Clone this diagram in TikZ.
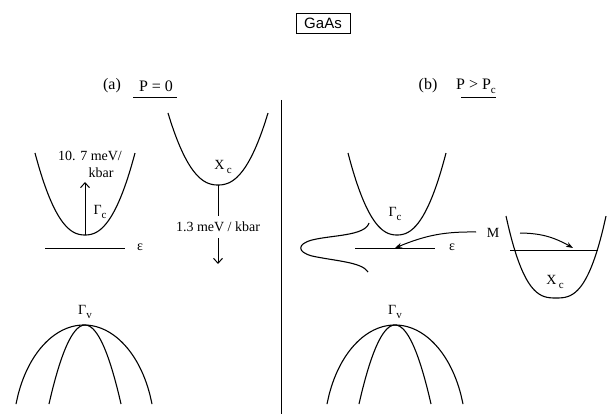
\documentclass[tikz,border=0pt]{standalone}
\usepackage{fontspec}
\setmainfont{Liberation Serif}
\newfontfamily\hsans{Liberation Sans}
\usetikzlibrary{arrows.meta,bending}
\newcommand\lowc[1]{\raisebox{-0.55ex}{\fontsize{11}{11}\selectfont #1}}
\begin{document}
\begin{tikzpicture}[x=1pt,y=-1pt,
  band/.style={line width=1.1pt},
  thinl/.style={line width=1pt},
  lbl/.style={font=\fontsize{14}{14}\selectfont, inner sep=0pt},
  head/.style={font=\fontsize{16}{16}\selectfont, inner sep=0pt},
  barb/.style={-{Straight Barb[length=5pt,width=9pt,line width=1pt]}},
  stl/.style={-{Stealth[length=7pt,width=5pt]}}]
\useasboundingbox (0,0) rectangle (607,414);
% title
\node[draw, line width=0.7pt, minimum width=54pt, minimum height=20pt, inner sep=2pt,
      font=\hsans\fontsize{15}{15}\selectfont] (title) at (323,23) {GaAs};
% headers
\node[head] (ha) at (112,86) {(a)};
\node[head] (hp0) at (156,86) {P = 0};
\coordinate (ula) at (133,98);
\coordinate (ulb) at (177,98);
\draw[thinl] (ula) -- (ulb);
\node[head] (hb) at (428,86) {(b)};
\node[head] (hpc) at (476,86) {P > P\lowc{c}};
\coordinate (ulc) at (461,98);
\coordinate (uld) at (496,98);
\draw[thinl] (ulc) -- (uld);
% divider
\coordinate (divt) at (281,100);
\coordinate (divb) at (281,414);
\draw[thinl] (divt) -- (divb);
% ---------- panel (a) ----------
% Gamma_c band
\draw[band] plot[domain=-1:1, samples=40, smooth] ({85+50*\x},{235-82*abs(\x)^2.3});
\coordinate (gcv) at (85,235);
\coordinate (gctip) at (85,182);
\draw[thinl, barb] (gcv) -- (gctip);
\node[lbl] (r1a) at (90,156) {10. 7 meV/};
\node[lbl] (r1b) at (101,173) {kbar};
\node[lbl] (gcl) at (100,212) {Γ\lowc{c}};
\coordinate (epsa1) at (45,248);
\coordinate (epsa2) at (125,248);
\draw[thinl] (epsa1) -- (epsa2);
\node[lbl] (epsa) at (140,247) {ε};
% X_c band
\draw[band] plot[domain=-1:1, samples=40, smooth] ({218+50*\x},{185-72*abs(\x)^2.3});
\node[lbl] (xcl) at (223,167) {X\,\lowc{c}};
\coordinate (xcv) at (218,185);
\node[lbl, inner ysep=6pt] (rate) at (218,227) {1.3 meV / kbar};
\coordinate (xctip) at (218,264);
\draw[thinl] (xcv) -- (rate.north);
\draw[thinl, barb] (rate.south) -- (xctip);
% Gamma_v bands
\draw[band] plot[domain=-68:68, samples=60, smooth] ({84+\x},{325+111*(1-sqrt(1-(\x/71)^2))});
\draw[band] plot[domain=-36:36, samples=40, smooth] ({85+\x},{325+79*(\x/36)^2});
\node[lbl] (gva) at (85,312) {Γ\lowc{v}};
% ---------- panel (b) ----------
\draw[band] plot[domain=-1:1, samples=40, smooth] ({397+49*\x},{235-82*abs(\x)^2.3});
\node[lbl] (gcr) at (395,214) {Γ\lowc{c}};
\coordinate (epsb1) at (355,248);
\coordinate (epsb2) at (435,248);
\draw[thinl] (epsb1) -- (epsb2);
\node[lbl] (epsb) at (452,247) {ε};
% impurity density of states
\coordinate (dos1) at (369,223);
\coordinate (dos2) at (312,240);
\coordinate (dos3) at (312,256);
\coordinate (dos4) at (368,272);
\draw[band] (dos1) .. controls (365,236) and (332,235) .. (dos2)
  .. controls (297,244) and (297,252) .. (dos3)
  .. controls (335,261) and (362,262) .. (dos4);
% M and arrows
\node[lbl] (m) at (493,233) {M};
\coordinate (ma) at (476,232);
\coordinate (mtipl) at (395,248);
\draw[thinl, stl] (ma) to[bend right=12] (mtipl);
\coordinate (mb) at (520,233);
\coordinate (mtipr) at (573,248);
\draw[thinl, stl] (mb) to[bend left=15] (mtipr);
% X_c band (b)
\draw[band] plot[domain=-1:1, samples=40, smooth] ({556+50*\x},{298-82*abs(\x)^2.8});
\coordinate (fl1) at (510,250);
\coordinate (fl2) at (598,250);
\draw[thinl] (fl1) -- (fl2);
\node[lbl] (xcr) at (555,282) {X\,\lowc{c}};
% Gamma_v bands (b)
\draw[band] plot[domain=-68:68, samples=60, smooth] ({395+\x},{325+111*(1-sqrt(1-(\x/71)^2))});
\draw[band] plot[domain=-36:36, samples=40, smooth] ({395+\x},{325+79*(\x/36)^2});
\node[lbl] (gvb) at (395,312) {Γ\lowc{v}};
\end{tikzpicture}
\end{document}
